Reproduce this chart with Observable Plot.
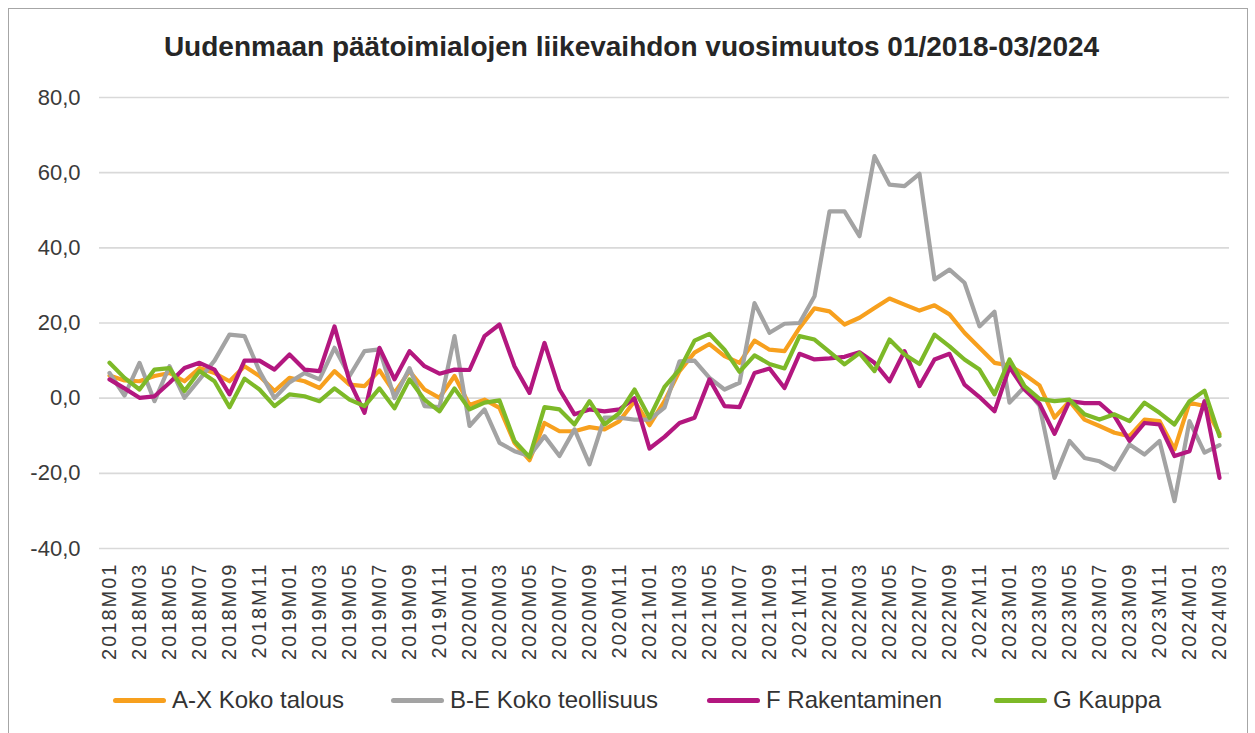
<!DOCTYPE html>
<html>
<head>
<meta charset="utf-8">
<script src="https://cdn.jsdelivr.net/npm/d3@7"></script>
<script src="https://cdn.jsdelivr.net/npm/@observablehq/plot@0.6"></script>
<style>
  body { margin: 0; background: #fff; font-family: "Liberation Sans", Arial, sans-serif; }
  #frame { position: absolute; left: 8px; top: 8px; width: 1240px; height: 800px; border: 1px solid #a6a6a6; box-sizing: border-box; }
  #title { position: absolute; left: 4px; width: 1255px; top: 31px; text-align: center; font-weight: bold; font-size: 28px; color: #262626; white-space: nowrap; }
  #chart { position: absolute; left: 0; top: 75px; }
  .leg { position: absolute; top: 686px; display: flex; align-items: center; font-size: 24px; color: #333; white-space: nowrap; }
  .leg .sw { display: inline-block; width: 53px; height: 5px; border-radius: 3px; margin-right: 6px; }
</style>
</head>
<body>
<div id="frame"></div>
<div id="title">Uudenmaan päätoimialojen liikevaihdon vuosimuutos 01/2018-03/2024</div>
<div id="chart"></div>
<div id="legend"></div>
<script>
const months = [
  "2018M01","2018M02","2018M03","2018M04","2018M05","2018M06","2018M07","2018M08","2018M09","2018M10","2018M11","2018M12",
  "2019M01","2019M02","2019M03","2019M04","2019M05","2019M06","2019M07","2019M08","2019M09","2019M10","2019M11","2019M12",
  "2020M01","2020M02","2020M03","2020M04","2020M05","2020M06","2020M07","2020M08","2020M09","2020M10","2020M11","2020M12",
  "2021M01","2021M02","2021M03","2021M04","2021M05","2021M06","2021M07","2021M08","2021M09","2021M10","2021M11","2021M12",
  "2022M01","2022M02","2022M03","2022M04","2022M05","2022M06","2022M07","2022M08","2022M09","2022M10","2022M11","2022M12",
  "2023M01","2023M02","2023M03","2023M04","2023M05","2023M06","2023M07","2023M08","2023M09","2023M10","2023M11","2023M12",
  "2024M01","2024M02","2024M03"
];

const axKokoTalous = [
  6.0, 4.7, 4.5, 5.9, 6.7, 4.5, 8.0, 6.7, 4.5, 8.5, 5.9, 1.9,
  5.4, 4.5, 2.7, 7.2, 3.6, 3.2, 7.4, 1.4, 7.2, 2.3, 0.1, 5.9,
  -1.8, -0.4, -2.6, -11.9, -16.5, -6.6, -8.8, -8.8, -7.7, -8.3, -6.1, -0.8,
  -7.2, -0.8, 7.2, 12.1, 14.4, 11.2, 9.4, 15.3, 12.9, 12.5, 18.7, 23.9,
  23.1, 19.6, 21.4, 24.0, 26.5, 24.9, 23.3, 24.7, 22.3, 17.4, 13.4, 9.4,
  8.7, 6.3, 3.4, -5.2, -0.8, -5.7, -7.4, -9.2, -10.1, -5.7, -6.1, -13.6,
  -1.2, -2.1, -9.5
];

const beKokoTeollisuus = [
  6.7, 0.7, 9.4, -0.8, 8.5, 0.1, 5.0, 10.0, 16.9, 16.5, 7.2, 0.0,
  4.2, 6.7, 5.0, 13.4, 5.9, 12.5, 13.0, 0.0, 8.0, -2.1, -2.4, 16.5,
  -7.4, -3.0, -11.9, -14.1, -15.4, -10.1, -15.4, -8.3, -17.6, -5.2, -5.2, -5.7,
  -5.7, -2.5, 9.8, 10.0, 5.4, 2.3, 4.1, 25.3, 17.4, 19.8, 20.0, 27.1,
  49.7, 49.7, 43.1, 64.4, 56.8, 56.4, 59.7, 31.6, 34.2, 30.7, 19.1, 23.0,
  -1.2, 3.0, -2.0, -21.2, -11.4, -15.9, -16.8, -19.0, -12.3, -15.0, -11.4, -27.4,
  -6.1, -14.5, -12.5
];

const fRakentaminen = [
  5.0, 2.6, 0.1, 0.5, 4.1, 8.0, 9.4, 7.6, 1.0, 10.0, 10.0, 7.6,
  11.6, 7.6, 7.2, 19.1, 4.5, -3.9, 13.4, 5.0, 12.5, 8.5, 6.5, 7.6,
  7.5, 16.5, 19.6, 8.5, 1.4, 14.7, 2.3, -4.3, -3.0, -3.5, -3.0, 0.0,
  -13.4, -10.3, -6.6, -5.2, 5.0, -2.1, -2.4, 6.7, 7.9, 2.7, 11.8, 10.3,
  10.6, 11.0, 12.2, 9.4, 4.5, 12.5, 3.2, 10.3, 11.8, 3.6, 0.3, -3.5,
  8.3, 2.3, -1.5, -9.5, -0.8, -1.3, -1.3, -4.8, -11.4, -6.6, -7.0, -15.4,
  -14.1, -0.8, -21.2
];

const gKauppa = [
  9.4, 5.4, 2.3, 7.6, 8.0, 1.9, 7.2, 4.5, -2.4, 5.2, 2.3, -2.1,
  1.0, 0.5, -0.8, 2.6, -0.4, -2.1, 2.6, -2.7, 5.0, -0.4, -3.5, 2.6,
  -3.0, -1.2, -0.6, -11.4, -15.7, -2.4, -3.0, -7.0, -0.8, -7.0, -3.9, 2.3,
  -5.2, 3.0, 7.6, 15.3, 17.1, 12.9, 7.0, 11.4, 9.1, 7.9, 16.5, 15.6,
  12.3, 9.0, 12.0, 7.2, 15.6, 11.6, 9.1, 16.9, 13.8, 10.3, 7.6, 1.0,
  10.3, 3.2, -0.2, -0.8, -0.4, -4.3, -5.7, -4.3, -6.1, -1.2, -3.9, -7.0,
  -0.8, 2.0, -10.1
];

const seriesNames = ["A-X Koko talous", "B-E Koko teollisuus", "F Rakentaminen", "G Kauppa"];
const seriesValues = [axKokoTalous, beKokoTeollisuus, fRakentaminen, gKauppa];
const seriesColors = ["#F7A01E", "#A3A3A3", "#B3177F", "#7DB928"];
const yTicks = [-40, -20, 0, 20, 40, 60, 80];
const xTickLabels = months.filter((m, i) => i % 2 === 0);

const rows = [];
seriesNames.forEach((name, s) => {
  months.forEach((m, i) => rows.push({month: m, series: name, value: seriesValues[s][i]}));
});

const chart = Plot.plot({
  width: 1255,
  height: 600,
  marginLeft: 99,
  marginRight: 26,
  marginTop: 22,
  marginBottom: 127,
  style: {fontFamily: "'Liberation Sans', Arial, sans-serif", color: "#3a3a3a", background: "transparent", overflow: "visible"},
  x: {type: "point", domain: months, padding: 0.5, label: null},
  y: {domain: [-40, 80], label: null},
  color: {domain: seriesNames, range: seriesColors},
  marks: [
    Plot.ruleY(yTicks, {stroke: "#d9d9d9", strokeWidth: 1.6}),
    Plot.axisY({ticks: yTicks, tickFormat: d => d.toFixed(1).replace(".", ","), tickSize: 0, tickPadding: 19, fontSize: 22, label: null, fill: "#3a3a3a"}),
    Plot.axisX({ticks: xTickLabels, tickRotate: -90, tickSize: 0, tickPadding: 14, fontSize: 20, label: null, fill: "#3a3a3a"}),
    Plot.line(rows, {x: "month", y: "value", z: "series", stroke: "series", strokeWidth: 4.2, strokeLinejoin: "round", strokeLinecap: "round"})
  ]
});
d3.select(chart).selectAll('g[aria-label="x-axis tick label"] text').style("letter-spacing", "2px");
document.getElementById("chart").appendChild(chart);

const legendLefts = [113, 391, 707, 994];
const legend = document.getElementById("legend");
seriesNames.forEach((name, i) => {
  const item = document.createElement("div");
  item.className = "leg";
  item.style.left = legendLefts[i] + "px";
  const sw = document.createElement("span");
  sw.className = "sw";
  sw.style.background = seriesColors[i];
  item.appendChild(sw);
  item.appendChild(document.createTextNode(name));
  legend.appendChild(item);
});
</script>
</body>
</html>
